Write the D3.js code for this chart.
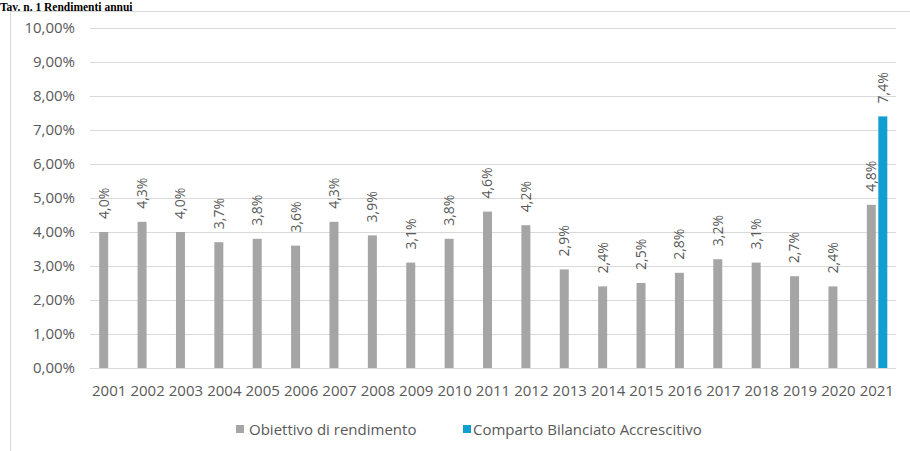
<!DOCTYPE html>
<html><head><meta charset="utf-8">
<script src="https://cdn.jsdelivr.net/npm/d3@7"></script>
<style>body{margin:0;background:#fff;} svg{display:block;}</style>
</head><body>
<svg id="c" width="910" height="451"></svg>
<script>
const years = ["2001","2002","2003","2004","2005","2006","2007","2008","2009","2010","2011","2012","2013","2014","2015","2016","2017","2018","2019","2020","2021"];
const obiettivo = [4.0,4.3,4.0,3.7,3.8,3.6,4.3,3.9,3.1,3.8,4.6,4.2,2.9,2.4,2.5,2.8,3.2,3.1,2.7,2.4,4.8];
const comparto = [null,null,null,null,null,null,null,null,null,null,null,null,null,null,null,null,null,null,null,null,7.4];
const yTicks = [0,1,2,3,4,5,6,7,8,9,10];
const seriesNames = ["Obiettivo di rendimento","Comparto Bilanciato Accrescitivo"];
const colors = ["#a5a5a5","#119ed1"];

const svg = d3.select("#c");
const font = "'Open Sans', sans-serif";
const txt = "#595959";

// title
svg.append("text").attr("x",0).attr("y",10.5).attr("font-family","'Liberation Serif', serif")
  .attr("font-weight","bold").attr("font-size",11.5).attr("fill","#000")
  .text("Tav. n. 1 Rendimenti annui");

// frame
svg.append("rect").attr("x",10.5).attr("y",11.5).attr("width",1000).attr("height",1000)
  .attr("fill","none").attr("stroke","#d9d9d9");

const x = d3.scaleBand().domain(years).range([90,896]);
const y = d3.scaleLinear().domain([0,10]).range([368,28]);

// gridlines
svg.append("g").selectAll("line").data(yTicks).join("line")
  .attr("x1",90).attr("x2",896).attr("y1",d=>Math.round(y(d))+0.5).attr("y2",d=>Math.round(y(d))+0.5)
  .attr("stroke","#d9d9d9").attr("stroke-width",1);

// y axis labels
const fmtY = d => d.toFixed(2).replace(".",",") + "%";
svg.append("g").selectAll("text").data(yTicks).join("text")
  .attr("x",75).attr("y",d=>y(d)).attr("dy","0.35em").attr("text-anchor","end")
  .attr("font-family",font).attr("font-size",15).attr("fill",txt).text(fmtY);

// x axis labels
svg.append("g").selectAll("text").data(years).join("text")
  .attr("x",d=>x(d)+x.bandwidth()/2).attr("y",396).attr("text-anchor","middle")
  .attr("font-family",font).attr("font-size",15).attr("fill",txt).text(d=>d);

const bw = 9;
const off = [-10, 1.5];
const fmtL = d => d.toFixed(1).replace(".",",") + "%";
[obiettivo, comparto].forEach((vals, si) => {
  const data = years.map((yr,i)=>({yr, v: vals[i]})).filter(d=>d.v!=null);
  const cx = d => x(d.yr)+x.bandwidth()/2 + off[si];
  svg.append("g").selectAll("rect").data(data).join("rect")
    .attr("x",cx).attr("y",d=>y(d.v)).attr("width",bw).attr("height",d=>y(0)-y(d.v))
    .attr("fill",colors[si]);
  svg.append("g").selectAll("text").data(data).join("text")
    .attr("transform",d=>`translate(${cx(d)+bw/2},${y(d.v)-13}) rotate(-90)`)
    .attr("dy","0.35em").attr("text-anchor","start")
    .attr("font-family",font).attr("font-size",14).attr("fill",txt).text(d=>fmtL(d.v));
});

// legend
const leg = [{x:236, tx:249},{x:463, tx:473}];
seriesNames.forEach((n,i)=>{
  svg.append("rect").attr("x",leg[i].x).attr("y",425).attr("width",8).attr("height",8).attr("fill",colors[i]);
  svg.append("text").attr("x",leg[i].tx).attr("y",434.5).attr("font-family",font).attr("font-size",15)
    .attr("fill",txt).text(n);
});
</script>
</body></html>
